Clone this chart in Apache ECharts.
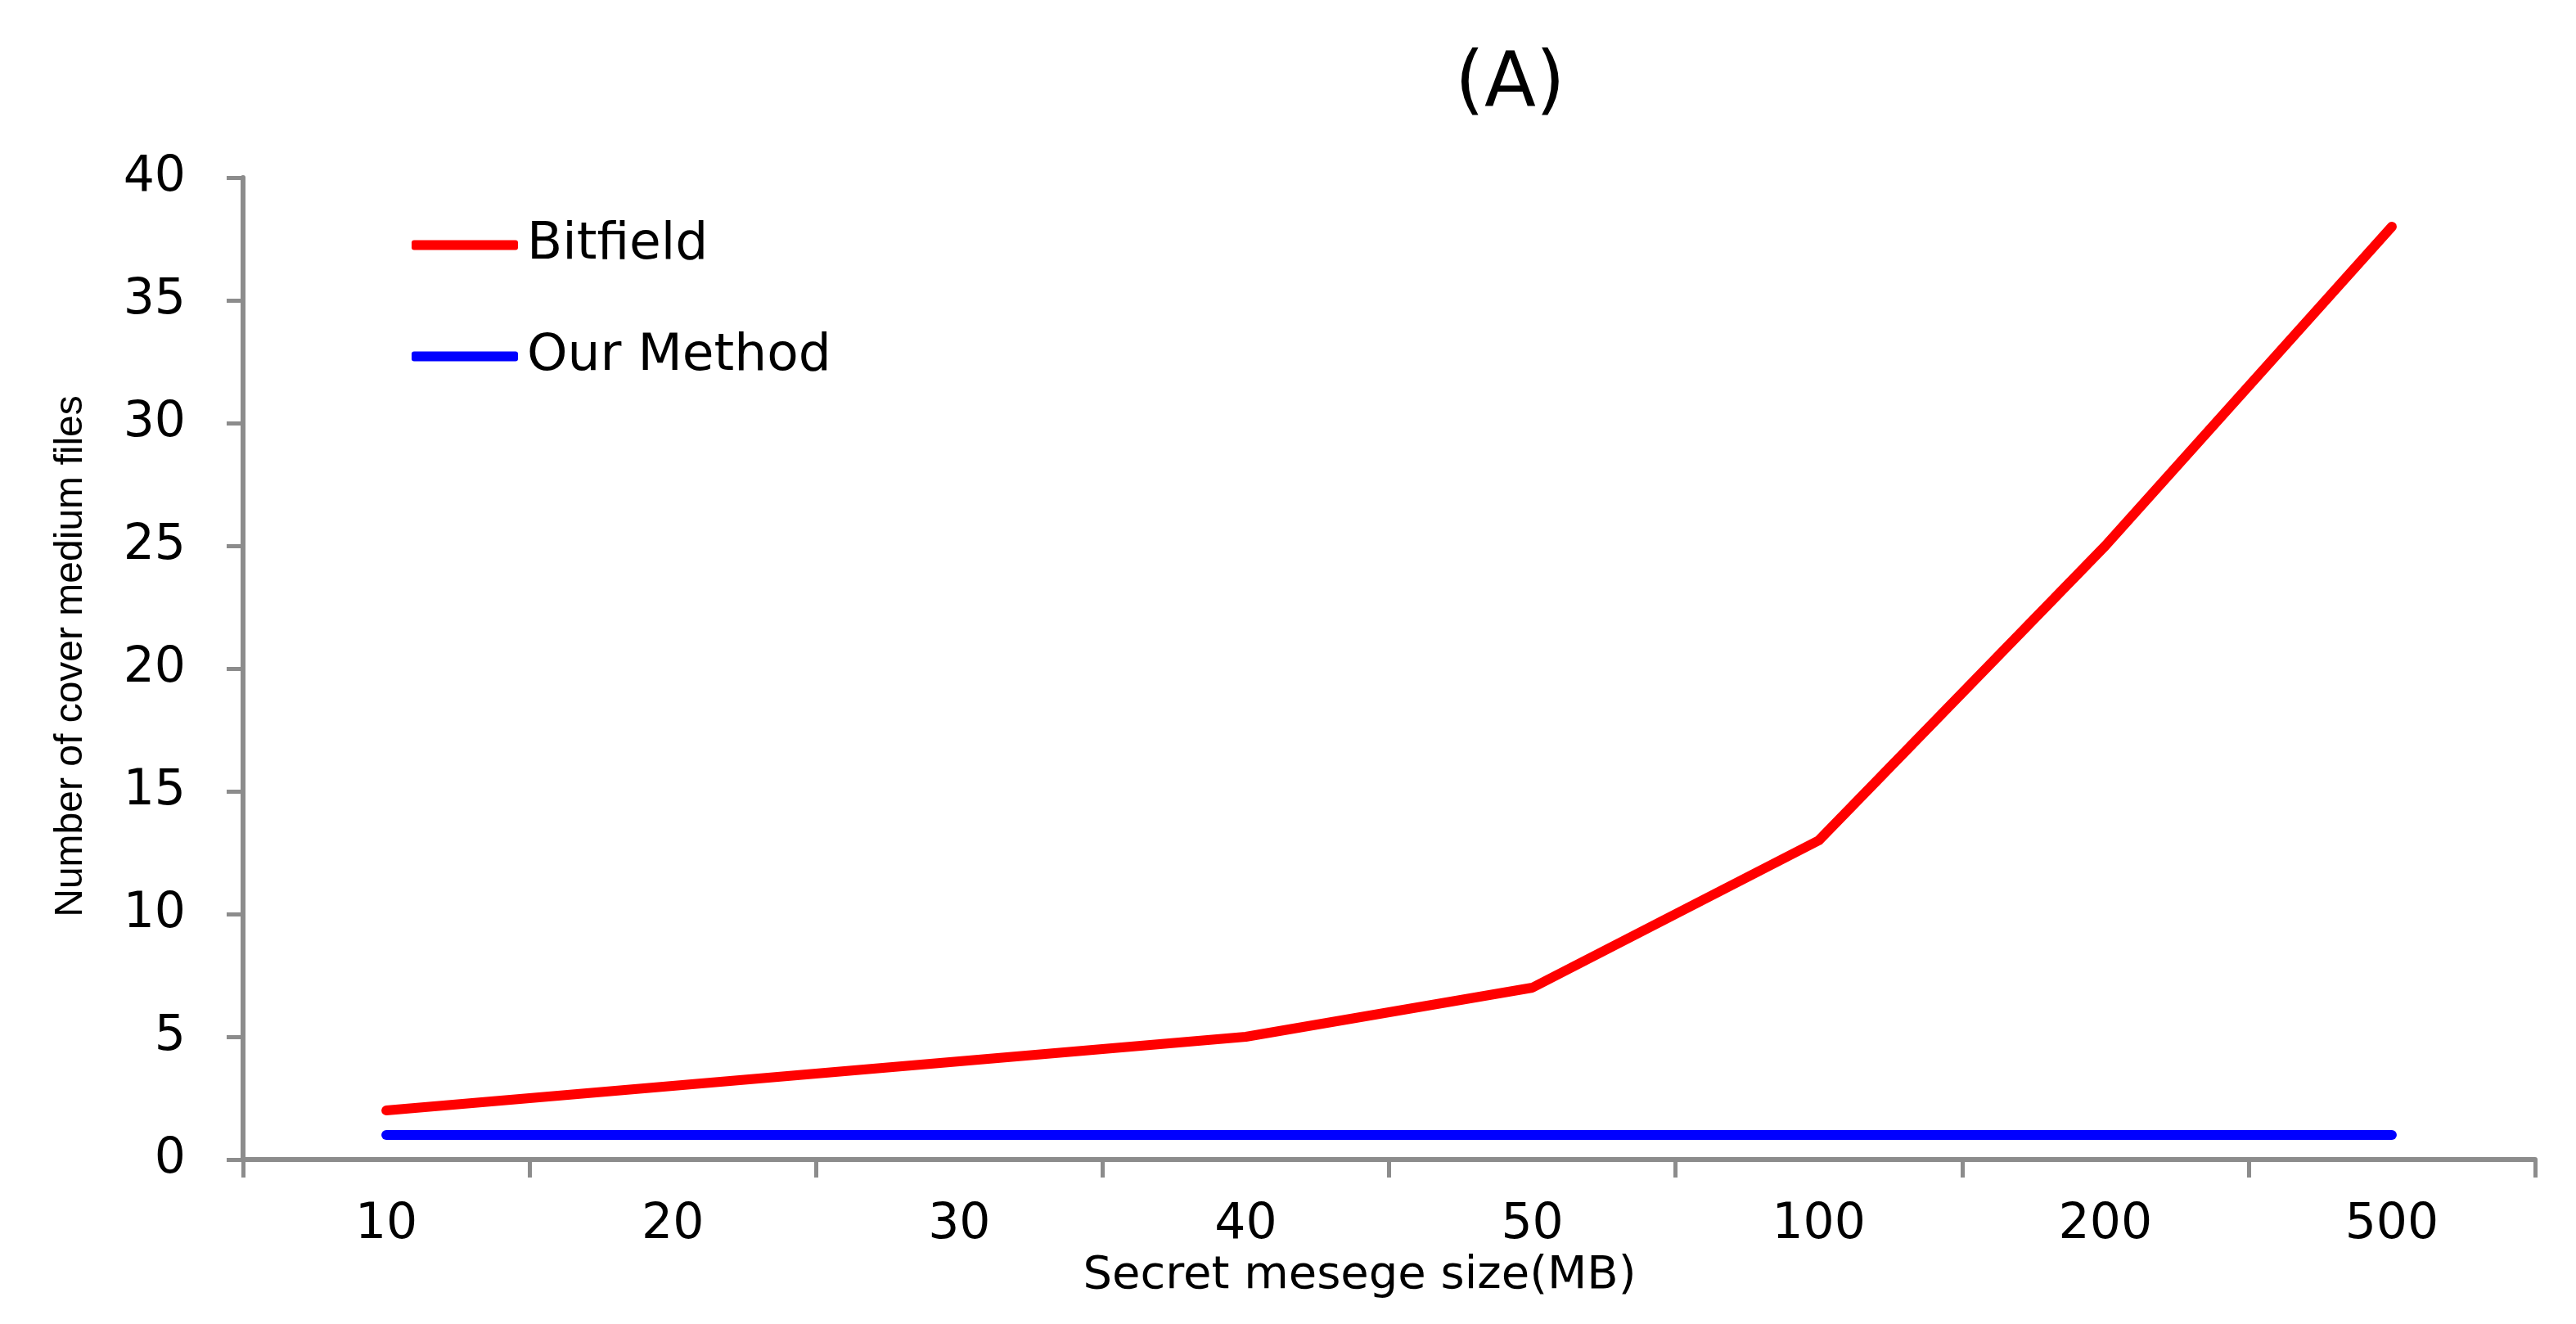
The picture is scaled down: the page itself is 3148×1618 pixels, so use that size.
<!DOCTYPE html>
<html>
<head>
<meta charset="utf-8">
<script src="https://cdn.jsdelivr.net/npm/echarts@6/dist/echarts.min.js"></script>
<style>
html,body{margin:0;padding:0;background:#fff;}
#c{width:3148px;height:1618px;}
</style>
</head>
<body>
<div id="c"></div>
<script>
var categories = ['10', '20', '30', '40', '50', '100', '200', '500'];
var bitfield = [2, 3, 4, 5, 7, 13, 25, 38];
var ourMethod = [1, 1, 1, 1, 1, 1, 1, 1];
var yTicks = {min: 0, max: 40, interval: 5};

var chart = echarts.init(document.getElementById('c'));
var axisColor = '#8c8c8c';
var wide = "'DejaVu Sans', Verdana, sans-serif";
var narrow = "'Liberation Sans Narrow', 'Liberation Sans', Arial, sans-serif";

chart.setOption({
  animation: false,
  backgroundColor: '#ffffff',
  title: {
    text: '(A)',
    left: 1773,
    top: 54,
    textStyle: {fontFamily: wide, fontSize: 92, fontWeight: 'normal', color: '#000'}
  },
  legend: {
    orient: 'vertical',
    left: 498,
    top: 263,
    itemGap: 73,
    itemWidth: 130,
    itemHeight: 12,
    icon: 'roundRect',
    textStyle: {fontFamily: wide, fontSize: 63, color: '#000', padding: [0, 0, 0, 6]},
    data: ['Bitfield', 'Our Method']
  },
  grid: {left: 297, right: 50, top: 217, bottom: 201, containLabel: false},
  xAxis: {
    type: 'category',
    data: categories,
    boundaryGap: true,
    name: 'Secret mesege size(MB)',
    nameLocation: 'middle',
    nameGap: 102,
    nameTextStyle: {fontFamily: wide, fontSize: 56, color: '#000', padding: [0, 72, 0, 0]},
    axisLine: {lineStyle: {color: axisColor, width: 6}},
    axisTick: {show: true, length: 22, lineStyle: {color: axisColor, width: 5}},
    axisLabel: {fontFamily: wide, fontSize: 60, color: '#000', margin: 50},
    splitLine: {show: false}
  },
  yAxis: {
    type: 'value',
    min: yTicks.min,
    max: yTicks.max,
    interval: yTicks.interval,
    name: 'Number of cover medium files',
    nameLocation: 'middle',
    nameGap: 186,
    nameRotate: 90,
    nameTextStyle: {fontFamily: narrow, fontSize: 48, color: '#000', padding: [0, 0, 0, 30]},
    axisLine: {show: true, lineStyle: {color: axisColor, width: 6}},
    axisTick: {show: true, length: 20, lineStyle: {color: axisColor, width: 5}},
    axisLabel: {fontFamily: wide, fontSize: 60, color: '#000', margin: 70},
    splitLine: {show: false}
  },
  series: [
    {
      name: 'Bitfield',
      type: 'line',
      data: bitfield,
      symbol: 'none',
      color: '#ff0000',
      lineStyle: {color: '#ff0000', width: 12, cap: 'round', join: 'round'}
    },
    {
      name: 'Our Method',
      type: 'line',
      data: ourMethod,
      symbol: 'none',
      color: '#0000ff',
      lineStyle: {color: '#0000ff', width: 12, cap: 'round', join: 'round'}
    }
  ]
});
</script>
</body>
</html>
